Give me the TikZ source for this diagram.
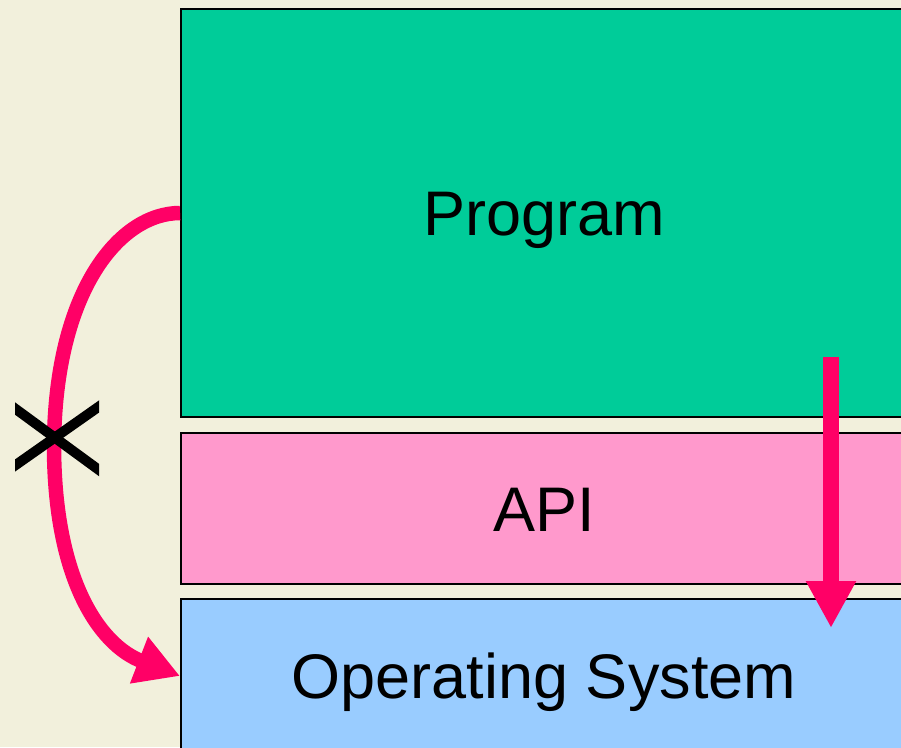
\documentclass[tikz,border=0pt]{standalone}
\usepackage{fontspec}
\setmainfont{Liberation Sans}
\usetikzlibrary{arrows.meta}
\definecolor{paper}{HTML}{F2F0DC}
\definecolor{progreen}{HTML}{00CC99}
\definecolor{apipink}{HTML}{FF99CC}
\definecolor{osblue}{HTML}{99CCFF}
\definecolor{callpink}{HTML}{FF0066}
\begin{document}
\begin{tikzpicture}[x=1pt,y=-1pt,
  layer/.style={draw=black,line width=2pt,rectangle,inner sep=0pt,
    text height=45pt,text depth=0pt,minimum width=726pt,
    font=\fontsize{63}{72}\selectfont},
  callarrow/.style={draw=callpink,line width=14.5pt,
    -{Triangle[length=44pt,width=47pt]}},
  apiarrow/.style={draw=callpink,line width=16pt,
    -{Triangle[length=47pt,width=47pt]}}]
\useasboundingbox (0,0) rectangle (901,747);
\clip (0,0) rectangle (901,747);
\fill[paper] (0,0) rectangle (901,747);

% the three layers
\node[layer,fill=progreen,minimum height=408pt] (prog) at (544,213) {Program};
\node[layer,fill=apipink,minimum height=151pt] (api) at (544,508.5) {API};
\node[layer,fill=osblue,minimum height=154pt] (os) at (544,676) {Operating System};

% direct call that bypasses the API
\draw[callarrow] (prog.west) .. controls (120,213) and (55,290) .. (54,445)
  .. controls (54,580) and (100,645) .. (os.west);

% forbidden mark on the direct call
\begin{scope}
  \clip (15,380) rectangle (99,500);
  \draw[black,line width=10pt] (6.6,402.35) -- (107.4,476.15);
  \draw[black,line width=10pt] (6.6,471.4) -- (107.4,400.6);
\end{scope}

% call through the API
\coordinate (callstart) at (831,357);
\coordinate (callend) at (831,628);
\draw[apiarrow] (callstart) -- (callend);
\end{tikzpicture}
\end{document}
